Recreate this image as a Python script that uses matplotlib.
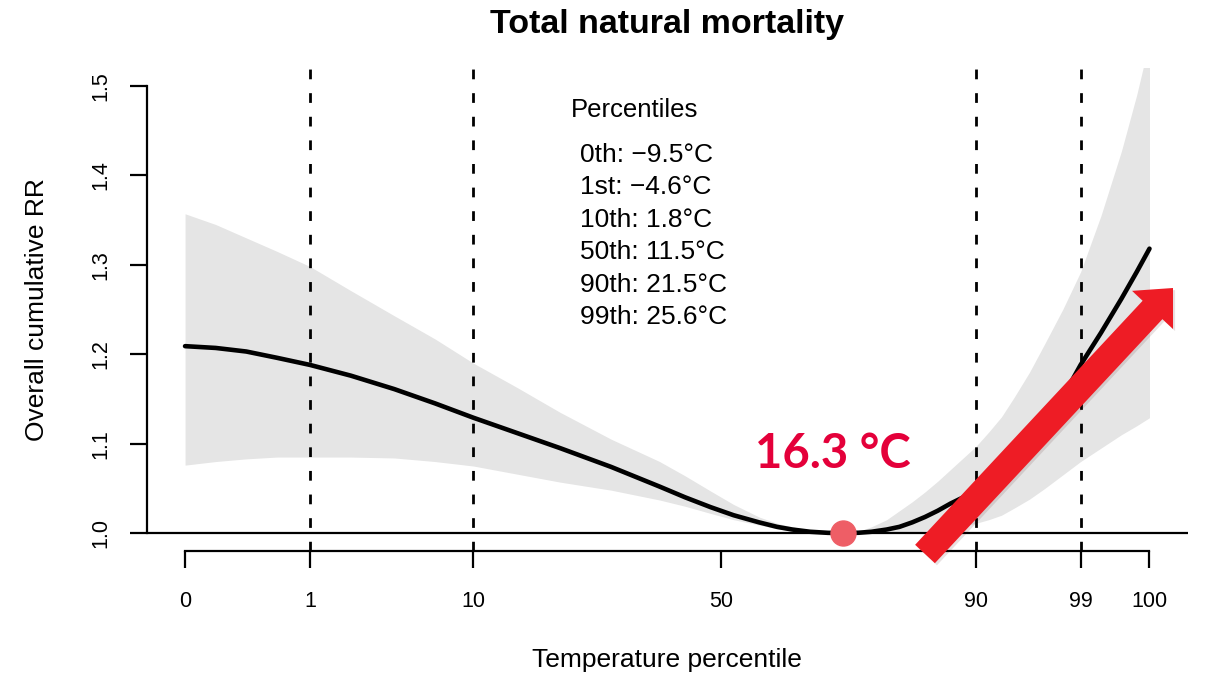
import matplotlib
matplotlib.use("Agg")
import matplotlib.pyplot as plt
import matplotlib.patheffects as pe
from matplotlib.patches import FancyArrow

# temperature (°C) and overall cumulative RR with 95% CI
temps = [-9.5, -8.3, -7.1, -5.9, -4.6, -3.0, -1.3, 0.3, 1.8, 3.5, 5.2, 7.2, 9.1, 10.1,
         11.1, 12.0, 13.0, 13.7, 14.3, 15.0, 15.7, 16.3, 16.9, 17.4, 18.0, 18.5, 19.0,
         19.5, 20.0, 20.5, 21.0, 21.5, 22.0, 22.5, 23.0, 23.6, 24.2, 24.9, 25.6, 26.4,
         27.2, 27.8, 28.3]
rr = [1.209, 1.207, 1.203, 1.196, 1.188, 1.176, 1.161, 1.145, 1.129, 1.112, 1.095, 1.074,
      1.052, 1.040, 1.029, 1.020, 1.012, 1.007, 1.004, 1.0015, 1.0003, 1.000, 1.0004,
      1.0015, 1.004, 1.007, 1.012, 1.018, 1.025, 1.033, 1.040, 1.048, 1.058, 1.069, 1.082,
      1.099, 1.120, 1.152, 1.188, 1.224, 1.262, 1.292, 1.318]
rr_high = [1.357, 1.345, 1.330, 1.315, 1.298, 1.271, 1.243, 1.217, 1.190, 1.163, 1.135,
           1.105, 1.080, 1.064, 1.047, 1.032, 1.018, 1.011, 1.007, 1.003, 1.001, 1.000,
           1.002, 1.007, 1.015, 1.025, 1.035, 1.046, 1.058, 1.071, 1.084, 1.097, 1.113,
           1.130, 1.152, 1.180, 1.212, 1.250, 1.292, 1.355, 1.427, 1.490, 1.550]
rr_low = [1.076, 1.080, 1.083, 1.085, 1.085, 1.085, 1.084, 1.080, 1.075, 1.066, 1.057,
          1.048, 1.037, 1.030, 1.022, 1.015, 1.009, 1.005, 1.002, 1.001, 1.000, 1.000,
          1.000, 1.000, 1.0005, 1.001, 1.0015, 1.002, 1.004, 1.006, 1.008, 1.011, 1.015,
          1.020, 1.028, 1.038, 1.050, 1.065, 1.080, 1.095, 1.110, 1.120, 1.129]

# percentile axis
pct_ticks = [-9.5, -4.6, 1.8, 11.5, 21.5, 25.6, 28.3]
pct_labels = ["0", "1", "10", "50", "90", "99", "100"]
dashed_at = [-4.6, 1.8, 21.5, 25.6]

# legend text
legend_names = ["0th", "1st", "10th", "50th", "90th", "99th"]
legend_temps = [-9.5, -4.6, 1.8, 11.5, 21.5, 25.6]

mmt = 16.3
y_ticks = [1.0, 1.1, 1.2, 1.3, 1.4, 1.5]

plt.rcParams["font.family"] = ["Liberation Sans", "DejaVu Sans"]

fig = plt.figure(figsize=(12.05, 6.81), dpi=100)
ax = fig.add_axes([0.1216, 0.1909, 0.8643, 0.7093])

ax.fill_between(temps, rr_low, rr_high, color="#e5e5e5", lw=0)
ax.axhline(1.0, color="black", lw=1.6)
for t in dashed_at:
    ax.axvline(t, color="black", lw=2.0, linestyle=(0, (3.5, 5)))
ax.plot(temps, rr, color="black", lw=3.3, solid_capstyle="round")
ax.plot([mmt], [1.0], "o", color="#ee5e66", markersize=18, zorder=5)

ax.set_xlim(-11.01, 29.81)
ax.set_ylim(0.98, 1.52)

for s in ["top", "right"]:
    ax.spines[s].set_visible(False)
ax.spines["left"].set_bounds(1.0, 1.5)
ax.spines["bottom"].set_bounds(pct_ticks[0], pct_ticks[-1])
ax.spines["left"].set_linewidth(1.6)
ax.spines["bottom"].set_linewidth(1.6)

ax.set_xticks(pct_ticks)
ax.set_xticklabels(pct_labels, fontsize=15.5)
ax.set_yticks(y_ticks)
ax.set_yticklabels([f"{v:.1f}" for v in y_ticks], fontsize=15.5, rotation=90, va="center")
ax.tick_params(axis="both", direction="out", length=12, width=1.6)
ax.tick_params(axis="x", pad=17)
ax.tick_params(axis="y", pad=13)

ax.set_xlabel("Temperature percentile", fontsize=19, labelpad=26)
ax.set_ylabel("Overall cumulative RR", fontsize=19, labelpad=30)
ax.set_title("Total natural mortality", fontsize=24.5, fontweight="bold", pad=25)

ax.text(0.407, 0.913, "Percentiles", transform=ax.transAxes, fontsize=18.5, va="center", ha="left")
for i, (name, t) in enumerate(zip(legend_names, legend_temps)):
    label = f"{name}: {t:.1f}°C".replace("-", "\u2212")
    ax.text(0.416, 0.82 - i * 0.0672, label, transform=ax.transAxes,
            fontsize=19, va="center", ha="left")

ax.text(mmt - 0.4, 1.088, "16.3 °C", color="#e4003a", fontsize=34, fontweight="bold",
        family=["Lato", "DejaVu Sans"], ha="center", va="center")

# red annotation arrow, in inches on the figure
arrow = FancyArrow(9.25, 1.27, 2.48, 2.66, width=0.27, head_width=0.56, head_length=0.30,
                   length_includes_head=True, color="#ee1c25", lw=0,
                   transform=fig.dpi_scale_trans, zorder=10)
arrow.set_path_effects([pe.SimplePatchShadow(offset=(1.5, -1.5), alpha=0.12), pe.Normal()])
fig.add_artist(arrow)

fig.savefig("out.png", dpi=100, facecolor="white")
